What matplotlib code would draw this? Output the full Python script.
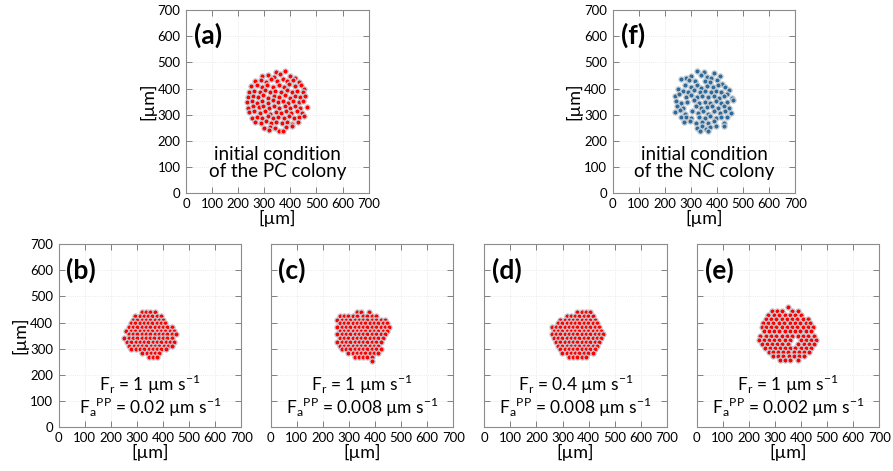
import matplotlib
matplotlib.use('Agg')
import matplotlib.pyplot as plt

plt.rcParams['font.family'] = ['Lato', 'DejaVu Sans']
plt.rcParams['mathtext.fontset'] = 'custom'
plt.rcParams['mathtext.rm'] = 'Lato'

# ---- data (µm) ----
# (a) initial PC colony, loose disk
pc_init = [(345, 463), (380, 468),
           (292, 447), (314, 452), (336, 444), (360, 455), (398, 449), (418, 440),
           (266, 428), (286, 434), (305, 426), (326, 436), (349, 429), (370, 438), (388, 428), (410, 433), (432, 425),
           (250, 408), (272, 413), (292, 405), (312, 415), (333, 407), (355, 412), (376, 404), (396, 416), (418, 408), (440, 412), (452, 398),
           (240, 386), (262, 392), (283, 388), (302, 395), (322, 385), (343, 392), (366, 388), (386, 395), (405, 386), (426, 392), (447, 385),
           (236, 368), (255, 372), (276, 366), (296, 374), (316, 364), (336, 371), (358, 368), (378, 374), (398, 365), (418, 372), (438, 366), (458, 370),
           (233, 348), (252, 354), (272, 345), (292, 352), (314, 346), (333, 355), (352, 347), (372, 352), (392, 344), (412, 353), (432, 347), (450, 354),
           (236, 326), (256, 332), (278, 328), (297, 334), (318, 325), (338, 332), (358, 326), (378, 334), (398, 327), (418, 333), (438, 325), (462, 330),
           (242, 308), (262, 312), (282, 306), (303, 313), (323, 304), (344, 311), (364, 306), (384, 314), (404, 306), (424, 312), (446, 307),
           (252, 288), (272, 292), (292, 286), (313, 294), (333, 286), (353, 292), (374, 287), (394, 294), (414, 285), (434, 292), (452, 296),
           (266, 272), (286, 268), (306, 275), (326, 266), (346, 272), (368, 266), (388, 273), (408, 265), (428, 272),
           (300, 250), (322, 254), (342, 247), (385, 252), (405, 258),
           (318, 242), (355, 236), (372, 238)]

# (f) initial NC colony
nc_init = [(325, 468), (350, 462), (388, 458),
           (280, 440), (300, 450), (340, 452), (360, 445), (378, 440), (410, 448),
           (262, 436), (292, 432), (315, 428), (352, 430), (372, 425), (398, 434), (420, 418),
           (250, 398), (278, 412), (300, 405), (322, 414), (340, 402), (362, 410), (385, 404), (402, 415), (430, 405), (446, 395),
           (268, 392), (290, 386), (312, 394), (333, 385), (355, 390), (378, 386), (396, 392), (416, 385), (440, 380),
           (238, 372), (255, 378), (282, 368), (302, 374), (322, 366), (344, 372), (366, 366), (388, 373), (408, 365), (428, 370), (456, 362),
           (242, 352), (262, 346), (285, 350), (310, 355), (330, 346), (352, 350), (374, 345), (396, 352), (416, 344), (438, 350), (462, 356),
           (248, 332), (268, 326), (320, 332), (340, 325), (362, 330), (382, 334), (405, 326), (425, 332), (446, 325),
           (240, 308), (258, 316), (278, 304), (305, 312), (326, 305), (346, 312), (366, 304), (388, 312), (410, 306), (432, 314), (452, 305),
           (262, 290), (282, 292), (300, 286), (330, 292), (352, 288), (372, 294), (395, 288), (416, 290), (438, 292),
           (272, 272), (295, 275), (318, 268), (344, 272), (366, 266), (388, 274), (428, 266),
           (325, 250), (342, 256), (356, 246), (374, 252), (395, 256), (425, 258),
           (335, 238), (365, 237)]

# (b)-(e): packed colonies, rows of y with the x of each cell
b_rows_y = [440, 426, 411, 397, 383, 368, 354, 340, 325, 311, 297, 283, 268]
b_rows_x = [[318, 335, 351, 368],
            [293, 310, 326, 343, 359, 376, 392],
            [285, 302, 318, 335, 351, 368, 384, 400],
            [277, 293, 310, 326, 343, 359, 376, 392, 409],
            [269, 285, 302, 318, 335, 351, 368, 384, 400, 417, 433],
            [260, 277, 293, 310, 326, 343, 359, 376, 392, 409, 425, 442],
            [269, 285, 302, 318, 335, 351, 368, 384, 400, 417, 433, 450],
            [252, 268, 285, 301, 318, 334, 351, 367, 384, 400, 417, 433],
            [262, 278, 295, 311, 328, 344, 361, 377, 394, 410, 427, 443],
            [270, 287, 303, 320, 336, 353, 369, 386, 402, 419, 435],
            [279, 295, 312, 328, 345, 361, 378, 394, 411],
            [320, 337, 353, 370, 386],
            [345, 362, 378]]

c_rows_y = [440, 426, 411, 397, 383, 368, 354, 340, 325, 311, 297, 283, 268, 254]
c_rows_x = [[330, 347, 378],
            [264, 281, 297, 314, 330, 355, 371, 388, 405],
            [256, 272, 289, 305, 322, 338, 355, 371, 388, 404, 421, 437],
            [264, 281, 297, 314, 330, 347, 363, 380, 396, 413, 429, 446],
            [256, 272, 289, 305, 322, 338, 355, 371, 388, 404, 421, 437, 454],
            [264, 281, 297, 314, 330, 347, 363, 380, 396, 413, 429, 446],
            [256, 272, 289, 305, 322, 338, 355, 371, 388, 404, 421, 437],
            [264, 281, 297, 314, 330, 347, 363, 380, 396, 413, 429],
            [256, 272, 289, 305, 322, 338, 355, 371, 388, 404, 421],
            [264, 281, 297, 314, 330, 347, 363, 380, 396, 413],
            [272, 289, 305, 322, 338, 355, 371, 388, 404, 421],
            [297, 314, 330, 347, 363, 380, 396, 413],
            [322, 338, 355, 371, 388],
            [388]]

d_rows_y = [440, 426, 411, 397, 383, 368, 354, 340, 325, 311, 297, 283, 268]
d_rows_x = [[357, 374, 390, 407],
            [316, 332, 349, 365, 382, 398, 415],
            [291, 308, 324, 341, 357, 374, 390, 407, 423],
            [283, 299, 316, 332, 349, 365, 382, 398, 415, 431],
            [258, 275, 291, 308, 324, 341, 357, 374, 390, 407, 423, 440],
            [266, 283, 299, 316, 332, 349, 365, 382, 398, 415, 431, 448],
            [258, 275, 291, 308, 324, 341, 357, 374, 390, 407, 423, 440, 456],
            [266, 283, 299, 316, 332, 349, 365, 382, 398, 415, 431, 448],
            [275, 291, 308, 324, 341, 357, 374, 390, 407, 423, 440],
            [283, 299, 316, 332, 349, 365, 382, 398, 415, 431],
            [291, 308, 324, 341, 357, 374, 390, 407, 423],
            [299, 316, 332, 349, 365, 382, 398, 415],
            [324, 341, 357, 374, 390]]

e_rows_y = [458, 445, 430, 414, 398, 382, 366, 350, 334, 318, 302, 287, 271, 256]
e_rows_x = [[348],
            [288, 308, 327, 367, 388],
            [275, 296, 316, 337, 356, 378, 400],
            [264, 284, 305, 326, 346, 365, 386, 407, 425],
            [255, 273, 293, 315, 334, 356, 375, 396, 418, 436],
            [250, 266, 286, 304, 326, 345, 365, 385, 406, 428, 447],
            [258, 277, 296, 316, 337, 356, 375, 397, 417, 438],
            [244, 264, 285, 305, 326, 346, 366, 388, 408, 428, 448],
            [240, 256, 276, 296, 316, 337, 357, 398, 418, 438, 456],
            [250, 268, 288, 307, 327, 348, 388, 410, 430, 448],
            [262, 280, 299, 318, 338, 358, 378, 399, 419, 438],
            [276, 294, 312, 331, 351, 372, 392, 412, 430],
            [292, 312, 332, 352, 372, 392, 412],
            [318, 338, 358, 388]]

labels_top = ['(a)', '(f)']
captions_top = ['initial condition\nof the PC colony', 'initial condition\nof the NC colony']
labels_bottom = ['(b)', '(c)', '(d)', '(e)']
fr_values = ['1', '1', '0.4', '1']
fa_values = ['0.02', '0.008', '0.008', '0.002']

RED = '#ff0000'
BLUE = '#2f6a98'
HALO = '#c4ccd4'


def rows_to_xy(rows_y, rows_x):
    xs, ys = [], []
    for y, row in zip(rows_y, rows_x):
        xs += row
        ys += [y] * len(row)
    return xs, ys


def style_axes(ax, show_ylabels=True):
    ax.set_xlim(0, 700)
    ax.set_ylim(0, 700)
    ax.set_xticks(range(0, 701, 100))
    ax.set_yticks(range(0, 701, 100))
    ax.grid(True, color='#e4e4e4', linestyle=':', linewidth=0.6)
    ax.set_axisbelow(True)
    ax.tick_params(direction='in', top=True, right=True, length=4, width=0.7,
                   color='#808080', labelsize=9.5, pad=4)
    for s in ax.spines.values():
        s.set_color('#8c8c8c')
        s.set_linewidth(0.8)
    ax.set_xlabel('[µm]', fontsize=13, labelpad=0)
    if show_ylabels:
        ax.set_ylabel('[µm]', fontsize=13, labelpad=1)
    else:
        ax.set_yticklabels([])


def draw_cells(ax, xs, ys, color):
    ax.scatter(xs, ys, s=14, c=color, edgecolors=HALO, linewidths=0.9, zorder=3)


fig = plt.figure(figsize=(8.93, 4.71), dpi=100)

W, H = 0.2045, 0.387
top_pos = [0.2083, 0.6861]
bot_pos = [0.0657, 0.3031, 0.5423, 0.7802]

top_data = [pc_init, nc_init]
top_colors = [RED, BLUE]
for i in range(2):
    ax = fig.add_axes([top_pos[i], 0.5909, W, H])
    style_axes(ax)
    xs = [p[0] for p in top_data[i]]
    ys = [p[1] for p in top_data[i]]
    draw_cells(ax, xs, ys, top_colors[i])
    ax.text(30, 605, labels_top[i], fontsize=19, fontweight='bold', va='center', ha='left')
    ax.text(350, 114, captions_top[i], fontsize=13.5, ha='center', va='center', linespacing=1.05)

bot_rows = [(b_rows_y, b_rows_x), (c_rows_y, c_rows_x), (d_rows_y, d_rows_x), (e_rows_y, e_rows_x)]
for i in range(4):
    ax = fig.add_axes([bot_pos[i], 0.0941, W, H])
    style_axes(ax, show_ylabels=(i == 0))
    xs, ys = rows_to_xy(*bot_rows[i])
    draw_cells(ax, xs, ys, RED)
    ax.text(30, 600, labels_bottom[i], fontsize=19, fontweight='bold', va='center', ha='left')
    ax.text(350, 164, r'F$_\mathregular{r}$ = ' + fr_values[i] + r' µm s$^\mathregular{-1}$',
            fontsize=12.5, ha='center', va='center')
    ax.text(350, 72, r'F$_\mathregular{a}$$^\mathregular{PP}$ = ' + fa_values[i] + r' µm s$^\mathregular{-1}$',
            fontsize=12.5, ha='center', va='center')

fig.savefig('out.png', dpi=100)
